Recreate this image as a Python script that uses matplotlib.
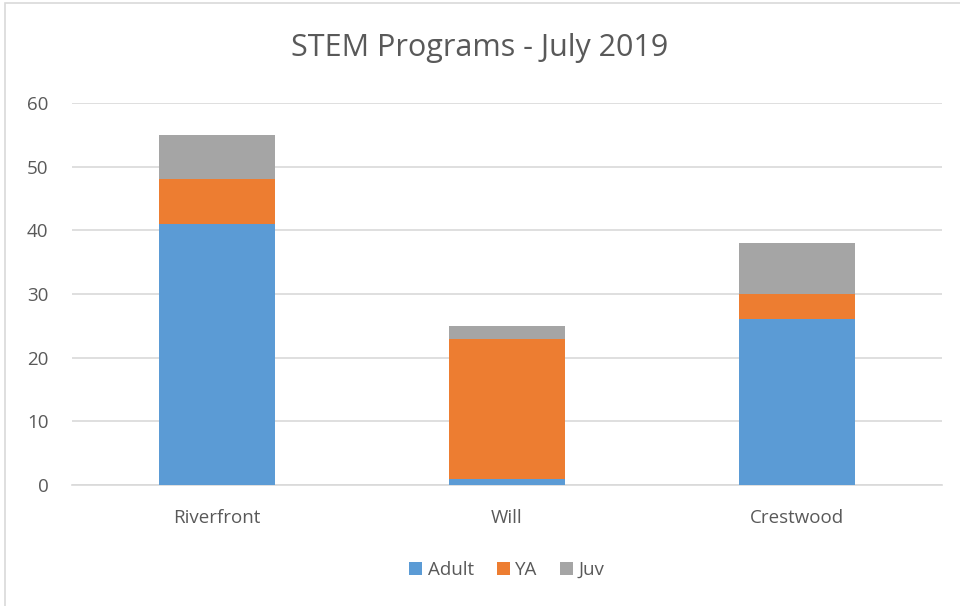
import numpy as np
import matplotlib.pyplot as plt
from matplotlib.patches import Rectangle

plt.rcParams['font.family'] = ['Open Sans', 'DejaVu Sans']

# data
sites = ['Riverfront', 'Will', 'Crestwood']
adult = [41, 1, 26]
ya = [7, 22, 4]
juv = [7, 2, 8]

fig = plt.figure(figsize=(9.6, 6.06), dpi=100)
# outer chart border (light gray)
fig.patches.append(Rectangle((5 / 960, -0.05), 1.2, 1 - 3 / 606 + 0.05, transform=fig.transFigure,
                             fill=False, edgecolor='#d9d9d9', linewidth=1.2))

ax = fig.add_axes([72 / 960, 1 - 485 / 606, 870 / 960, 382 / 606])
x = np.arange(len(sites))
w = 0.4
bottom_ya = np.array(adult)
bottom_juv = bottom_ya + np.array(ya)
ax.bar(x, adult, w, color='#5b9bd5', label='Adult', zorder=3)
ax.bar(x, ya, w, bottom=bottom_ya, color='#ed7d31', label='YA', zorder=3)
ax.bar(x, juv, w, bottom=bottom_juv, color='#a5a5a5', label='Juv', zorder=3)

ax.set_xlim(-0.5, 2.5)
ax.set_ylim(0, 60)
ax.set_yticks(range(0, 61, 10))
ax.set_xticks(x)
ax.set_xticklabels(sites)
ax.yaxis.grid(True, color='#d9d9d9', linewidth=1.2, zorder=0)
for s in ['top', 'right', 'left']:
    ax.spines[s].set_visible(False)
ax.spines['bottom'].set_color('#d9d9d9')
ax.spines['bottom'].set_linewidth(1.2)
ax.tick_params(axis='both', length=0, labelsize=13.5, colors='#595959')
ax.tick_params(axis='x', pad=17)
ax.tick_params(axis='y', pad=17)

fig.text(0.5, 1 - 48 / 606, 'STEM Programs - July 2019', ha='center', va='center',
         fontsize=22, color='#595959')

ax.legend(loc='center', bbox_to_anchor=(0.5, -0.222), ncol=3, frameon=False,
          fontsize=13.5, labelcolor='#595959', handlelength=0.7, handleheight=0.7,
          handletextpad=0.3, columnspacing=1.2)

plt.savefig('out.png', dpi=100)
plt.close()
